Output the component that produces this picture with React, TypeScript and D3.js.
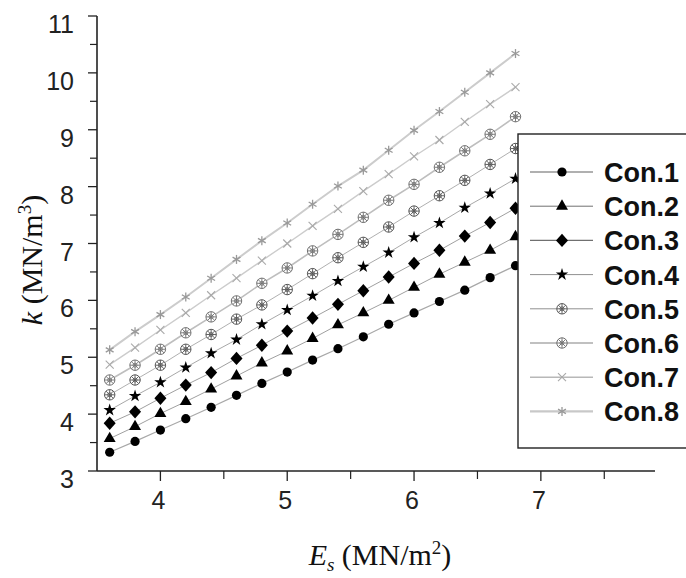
import React from "react";
import * as d3 from "d3";

const esValues = [3.6, 3.8, 4.0, 4.2, 4.4, 4.6, 4.8, 5.0, 5.2, 5.4, 5.6, 5.8, 6.0, 6.2, 6.4, 6.6, 6.8];
const seriesNames = ["Con.1", "Con.2", "Con.3", "Con.4", "Con.5", "Con.6", "Con.7", "Con.8"];
const con1 = [3.33, 3.52, 3.72, 3.92, 4.12, 4.33, 4.54, 4.74, 4.95, 5.15, 5.36, 5.58, 5.78, 5.98, 6.18, 6.40, 6.61];
const con2 = [3.57, 3.78, 4.01, 4.22, 4.44, 4.67, 4.90, 5.11, 5.33, 5.57, 5.78, 6.00, 6.23, 6.46, 6.67, 6.88, 7.12];
const con3 = [3.84, 4.04, 4.28, 4.51, 4.73, 4.98, 5.21, 5.46, 5.69, 5.93, 6.17, 6.41, 6.65, 6.88, 7.13, 7.37, 7.62];
const con4 = [4.07, 4.32, 4.56, 4.82, 5.07, 5.31, 5.58, 5.83, 6.08, 6.34, 6.59, 6.84, 7.11, 7.36, 7.63, 7.88, 8.14];
const con5 = [4.34, 4.60, 4.86, 5.14, 5.40, 5.67, 5.92, 6.19, 6.47, 6.75, 7.02, 7.29, 7.57, 7.84, 8.11, 8.39, 8.67];
const con6 = [4.60, 4.86, 5.14, 5.43, 5.71, 5.99, 6.30, 6.57, 6.87, 7.16, 7.46, 7.76, 8.04, 8.34, 8.63, 8.92, 9.23];
const con7 = [4.87, 5.17, 5.48, 5.78, 6.09, 6.39, 6.70, 7.00, 7.31, 7.61, 7.92, 8.22, 8.53, 8.82, 9.14, 9.45, 9.75];
const con8 = [5.13, 5.45, 5.75, 6.06, 6.39, 6.72, 7.05, 7.36, 7.69, 8.01, 8.29, 8.64, 8.99, 9.32, 9.66, 10.00, 10.34];
const seriesValues = [con1, con2, con3, con4, con5, con6, con7, con8];
const xMajorTicks = [4, 5, 6, 7];
const xMinorTicks = [4.5, 5.5, 6.5, 7.5];
const yMajorTicks = [3, 4, 5, 6, 7, 8, 9, 10, 11];
const yMinorTicks = [3.5, 4.5, 5.5, 6.5, 7.5, 8.5, 9.5, 10.5];

const markerTypes = ["circle", "triangle", "diamond", "star", "hatch", "hatch2", "cross", "asterisk"];
const lineColors = ["#a8a8a8", "#a0a0a0", "#a0a0a0", "#a8a8a8", "#b0b0b0", "#bebebe", "#cccccc", "#cccccc"];
const lineWidths = [1.2, 1, 1, 1, 1, 1.6, 1.4, 2];
const legendLineColors = ["#b0b0b0", "#707070", "#707070", "#909090", "#909090", "#c0c0c0", "#b8b8b8", "#c8c8c8"];
const legendLineWidths = [2, 1, 1.2, 1, 1, 2.2, 1.4, 2.2];

const x = d3.scaleLinear().domain([3.5, 7.9]).range([97, 655]);
const y = d3.scaleLinear().domain([3, 11]).range([471, 16]);

function Marker({ type, cx, cy }: { type: string; cx: number; cy: number }) {
  const t = `translate(${cx},${cy})`;
  if (type === "circle") return <circle cx={cx} cy={cy} r={4.6} fill="#000" />;
  if (type === "triangle")
    return <path transform={t} d={d3.symbol(d3.symbolTriangle, 62)()!} fill="#000" />;
  if (type === "diamond")
    return <path transform={`${t} scale(1.55,1)`} d={d3.symbol(d3.symbolDiamond, 52)()!} fill="#000" />;
  if (type === "star")
    return <path transform={t} d={d3.symbol(d3.symbolStar, 48)()!} fill="#000" />;
  if (type === "hatch" || type === "hatch2") {
    const c = type === "hatch" ? "#555" : "#707070";
    const r = 5.2;
    const spokes = [0, 45, 90, 135];
    return (
      <g transform={t}>
        <circle r={r} fill="#fff" stroke={c} strokeWidth={1} />
        {spokes.map((a) => {
          const rad = (a * Math.PI) / 180;
          return (
            <line key={a} x1={-r * Math.cos(rad)} y1={-r * Math.sin(rad)} x2={r * Math.cos(rad)} y2={r * Math.sin(rad)} stroke={c} strokeWidth={0.9} />
          );
        })}
        <circle r={2} fill="none" stroke={c} strokeWidth={0.8} />
      </g>
    );
  }
  if (type === "cross") {
    const s = 4;
    return (
      <g transform={t} stroke="#a8a8a8" strokeWidth={1.1}>
        <line x1={-s} y1={-s} x2={s} y2={s} />
        <line x1={-s} y1={s} x2={s} y2={-s} />
      </g>
    );
  }
  const s = 4.5;
  return (
    <g transform={t} stroke="#999" strokeWidth={1.3}>
      <line x1={0} y1={-s} x2={0} y2={s} />
      <line x1={-s * 0.87} y1={-s / 2} x2={s * 0.87} y2={s / 2} />
      <line x1={-s * 0.87} y1={s / 2} x2={s * 0.87} y2={-s / 2} />
    </g>
  );
}

export default function App() {
  const line = d3
    .line<number>()
    .x((_, i) => x(esValues[i]))
    .y((d) => y(d));
  const axisColor = "#222";
  const legendTop = 172;
  const legendStep = 34.2;
  return (
    <svg width={686} height={578} style={{ position: "absolute", left: 0, top: 0, background: "#fff" }}>
      <rect x={0} y={0} width={686} height={578} fill="#fff" />
      {seriesValues.map((vals, si) => (
        <path key={"l" + si} d={line(vals)!} fill="none" stroke={lineColors[si]} strokeWidth={lineWidths[si]} />
      ))}
      {seriesValues.map((vals, si) =>
        vals.map((v, i) => <Marker key={`m${si}-${i}`} type={markerTypes[si]} cx={x(esValues[i])} cy={y(v)} />)
      )}
      <line x1={x(3.5)} y1={y(3)} x2={x(7.9)} y2={y(3)} stroke={axisColor} strokeWidth={1.6} />
      <line x1={x(3.5)} y1={y(3)} x2={x(3.5)} y2={y(11)} stroke={axisColor} strokeWidth={1.6} />
      {xMajorTicks.map((t) => (
        <g key={"xt" + t}>
          <line x1={x(t)} x2={x(t)} y1={y(3)} y2={y(3) + 10} stroke={axisColor} strokeWidth={1.3} />
          <text x={x(t) - 2} y={509} textAnchor="middle" fontFamily="Liberation Sans, Arial, sans-serif" fontSize={25} fill="#222">
            {t}
          </text>
        </g>
      ))}
      {xMinorTicks.map((t) => (
        <line key={"xm" + t} x1={x(t)} x2={x(t)} y1={y(3)} y2={y(3) + 8} stroke={axisColor} strokeWidth={1.2} />
      ))}
      {yMajorTicks.map((t) => (
        <g key={"yt" + t}>
          <line x1={x(3.5) - 9} x2={x(3.5)} y1={y(t)} y2={y(t)} stroke={axisColor} strokeWidth={1.3} />
          <text x={74} y={y(t) + 17} textAnchor="end" fontFamily="Liberation Sans, Arial, sans-serif" fontSize={25} fill="#222">
            {t}
          </text>
        </g>
      ))}
      {yMinorTicks.map((t) => (
        <line key={"ym" + t} x1={x(3.5) - 7} x2={x(3.5)} y1={y(t)} y2={y(t)} stroke={axisColor} strokeWidth={1.2} />
      ))}
      <text x={380} y={565} textAnchor="middle" fontFamily="Liberation Serif, Times New Roman, serif" fontSize={30} fill="#111">
        <tspan fontStyle="italic">E</tspan>
        <tspan fontStyle="italic" fontSize={19} dy={6}>s</tspan>
        <tspan dy={-6}> (MN/m</tspan>
        <tspan fontSize={19} dy={-11}>2</tspan>
        <tspan dy={11}>)</tspan>
      </text>
      <text transform="translate(42,260) rotate(-90)" textAnchor="middle" fontFamily="Liberation Serif, Times New Roman, serif" fontSize={30} fill="#111">
        <tspan fontStyle="italic">k</tspan>
        <tspan> (MN/m</tspan>
        <tspan fontSize={19} dy={-11}>3</tspan>
        <tspan dy={11}>)</tspan>
      </text>
      <rect x={518} y={134} width={200} height={314} fill="#fff" stroke="#222" strokeWidth={1.4} />
      {seriesNames.map((name, i) => {
        const cy = legendTop + i * legendStep;
        return (
          <g key={"lg" + i}>
            <line x1={530} x2={593} y1={cy} y2={cy} stroke={legendLineColors[i]} strokeWidth={legendLineWidths[i]} />
            <Marker type={markerTypes[i]} cx={562} cy={cy} />
            <text x={604} y={cy + 10} fontFamily="Liberation Sans, Arial, sans-serif" fontWeight="bold" fontSize={27} fill="#111">
              {name}
            </text>
          </g>
        );
      })}
    </svg>
  );
}
